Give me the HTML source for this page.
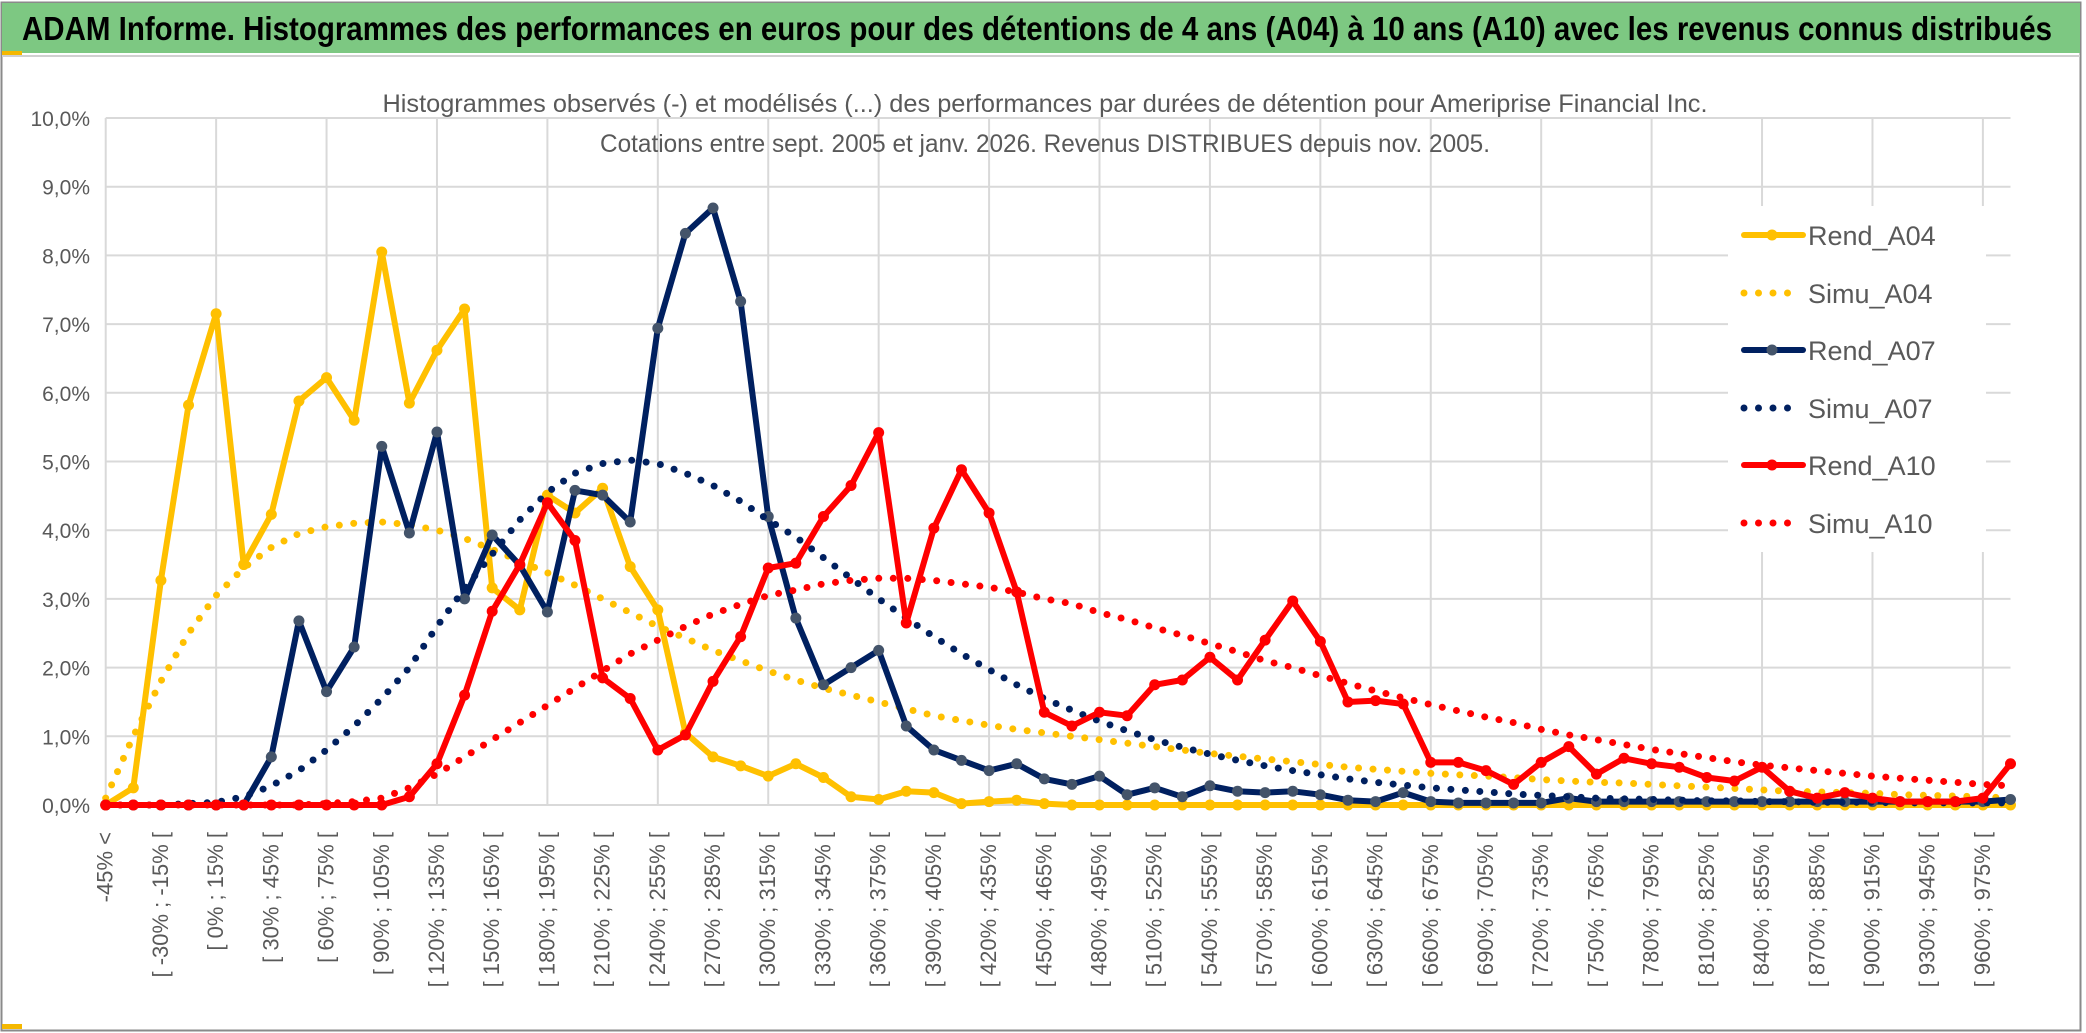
<!DOCTYPE html>
<html><head><meta charset="utf-8"><title>ADAM Informe</title>
<style>
html,body{margin:0;padding:0;background:#fff;}
svg{display:block;font-family:"Liberation Sans",sans-serif;}
</style></head>
<body>
<svg id="chart" width="2086" height="1033" viewBox="0 0 2086 1033" xmlns="http://www.w3.org/2000/svg">
  <rect x="1.5" y="2.5" width="2079" height="1028" fill="#fff" stroke="#8a8a8a" stroke-width="2"/>
  <rect x="2" y="3" width="2078" height="50" fill="#7dc882"/>
  <rect x="2" y="51" width="20" height="4" fill="#f5b800"/>
  <line x1="2" y1="56" x2="2080" y2="56" stroke="#d0d0d0" stroke-width="2"/>
  <rect x="2" y="1024" width="20" height="5" fill="#f5b800"/>
  <text x="22" y="40" font-size="33" font-weight="bold" fill="#000" textLength="2030" lengthAdjust="spacingAndGlyphs">ADAM Informe. Histogrammes des performances en euros pour des détentions de 4 ans (A04) à 10 ans (A10) avec les revenus connus distribués</text>
  <g id="grid"></g>
  <g id="yaxis"></g>
  <g id="xaxis"></g>
  <rect x="1728" y="206" width="258" height="346" fill="#fff"/>
  <text x="1045" y="112" font-size="25" fill="#595959" text-anchor="middle" textLength="1325" lengthAdjust="spacingAndGlyphs">Histogrammes observés (-) et modélisés (...) des performances par durées de détention pour Ameriprise Financial Inc.</text>
  <text x="1045" y="152" font-size="25" fill="#595959" text-anchor="middle" textLength="890" lengthAdjust="spacingAndGlyphs">Cotations entre sept. 2005 et janv. 2026. Revenus DISTRIBUES depuis nov. 2005.</text>
  <g id="series"></g>
  <g id="legend"></g>
</svg>
<script>
const categories = ["-45% <","[ -45% ; -30% [","[ -30% ; -15% [","[ -15% ; 0% [","[ 0% ; 15% [","[ 15% ; 30% [","[ 30% ; 45% [","[ 45% ; 60% [","[ 60% ; 75% [","[ 75% ; 90% [","[ 90% ; 105% [","[ 105% ; 120% [","[ 120% ; 135% [","[ 135% ; 150% [","[ 150% ; 165% [","[ 165% ; 180% [","[ 180% ; 195% [","[ 195% ; 210% [","[ 210% ; 225% [","[ 225% ; 240% [","[ 240% ; 255% [","[ 255% ; 270% [","[ 270% ; 285% [","[ 285% ; 300% [","[ 300% ; 315% [","[ 315% ; 330% [","[ 330% ; 345% [","[ 345% ; 360% [","[ 360% ; 375% [","[ 375% ; 390% [","[ 390% ; 405% [","[ 405% ; 420% [","[ 420% ; 435% [","[ 435% ; 450% [","[ 450% ; 465% [","[ 465% ; 480% [","[ 480% ; 495% [","[ 495% ; 510% [","[ 510% ; 525% [","[ 525% ; 540% [","[ 540% ; 555% [","[ 555% ; 570% [","[ 570% ; 585% [","[ 585% ; 600% [","[ 600% ; 615% [","[ 615% ; 630% [","[ 630% ; 645% [","[ 645% ; 660% [","[ 660% ; 675% [","[ 675% ; 690% [","[ 690% ; 705% [","[ 705% ; 720% [","[ 720% ; 735% [","[ 735% ; 750% [","[ 750% ; 765% [","[ 765% ; 780% [","[ 780% ; 795% [","[ 795% ; 810% [","[ 810% ; 825% [","[ 825% ; 840% [","[ 840% ; 855% [","[ 855% ; 870% [","[ 870% ; 885% [","[ 885% ; 900% [","[ 900% ; 915% [","[ 915% ; 930% [","[ 930% ; 945% [","[ 945% ; 960% [","[ 960% ; 975% [","[ 975% ; 990% ["];
const yTicks = [0,1,2,3,4,5,6,7,8,9,10];
const yTickLabels = ["0,0%","1,0%","2,0%","3,0%","4,0%","5,0%","6,0%","7,0%","8,0%","9,0%","10,0%"];
const seriesNames = ["Rend_A04","Simu_A04","Rend_A07","Simu_A07","Rend_A10","Simu_A10"];
const rendA04 = [0,0.25,3.27,5.82,7.15,3.5,4.23,5.88,6.22,5.6,8.05,5.85,6.62,7.22,3.16,2.84,4.51,4.25,4.61,3.47,2.84,1.05,0.7,0.57,0.42,0.6,0.4,0.12,0.08,0.2,0.18,0.02,0.05,0.07,0.02,0,0,0,0,0,0,0,0,0,0,0,0,0,0,0,0,0,0,0,0,0,0,0,0,0,0,0,0,0,0,0,0,0,0,0];
const simuA04 = [0.1,1.0,1.8,2.5,3.05,3.45,3.75,3.95,4.05,4.1,4.12,4.08,4.0,3.88,3.72,3.55,3.38,3.2,3.0,2.8,2.6,2.43,2.25,2.1,1.95,1.82,1.7,1.6,1.5,1.4,1.3,1.23,1.16,1.1,1.05,1.0,0.95,0.9,0.85,0.8,0.75,0.71,0.67,0.63,0.59,0.55,0.52,0.49,0.46,0.44,0.42,0.4,0.37,0.35,0.33,0.32,0.3,0.28,0.26,0.24,0.22,0.2,0.19,0.18,0.17,0.15,0.14,0.13,0.12,0.1];
const rendA07 = [0,0,0,0,0,0,0.7,2.68,1.65,2.3,5.22,3.96,5.43,3.0,3.93,3.49,2.81,4.58,4.51,4.12,6.94,8.32,8.69,7.33,4.2,2.72,1.75,2.0,2.25,1.15,0.8,0.65,0.5,0.6,0.38,0.3,0.42,0.15,0.25,0.12,0.28,0.2,0.18,0.2,0.15,0.07,0.05,0.18,0.05,0.03,0.03,0.03,0.03,0.1,0.05,0.05,0.05,0.05,0.05,0.05,0.05,0.05,0.05,0.05,0.05,0.05,0.05,0.05,0.05,0.08];
const simuA07 = [0,0,0,0.02,0.04,0.12,0.28,0.5,0.8,1.15,1.55,2.0,2.6,3.15,3.65,4.15,4.55,4.83,4.97,5.02,4.97,4.83,4.65,4.42,4.15,3.9,3.6,3.3,3.0,2.72,2.45,2.2,1.97,1.75,1.55,1.38,1.22,1.08,0.95,0.84,0.74,0.65,0.57,0.5,0.44,0.38,0.33,0.29,0.25,0.22,0.19,0.16,0.14,0.12,0.1,0.09,0.08,0.07,0.06,0.06,0.05,0.05,0.04,0.04,0.04,0.03,0.03,0.03,0.03,0.03];
const rendA10 = [0,0,0,0,0,0,0,0,0,0,0,0.12,0.6,1.6,2.82,3.5,4.4,3.85,1.85,1.55,0.8,1.02,1.8,2.45,3.45,3.52,4.2,4.65,5.42,2.65,4.03,4.88,4.25,3.1,1.35,1.15,1.35,1.3,1.75,1.82,2.15,1.82,2.4,2.97,2.38,1.5,1.52,1.47,0.62,0.62,0.5,0.3,0.62,0.85,0.45,0.68,0.6,0.55,0.4,0.35,0.55,0.2,0.1,0.18,0.1,0.05,0.05,0.05,0.1,0.6];
const simuA10 = [0,0,0,0,0,0,0,0,0.02,0.05,0.1,0.25,0.45,0.7,0.95,1.2,1.45,1.7,1.95,2.2,2.4,2.6,2.78,2.92,3.05,3.13,3.22,3.27,3.3,3.3,3.27,3.22,3.17,3.1,3.0,2.93,2.8,2.7,2.58,2.47,2.35,2.23,2.1,2.0,1.88,1.77,1.66,1.56,1.46,1.37,1.28,1.2,1.1,1.02,0.95,0.88,0.81,0.75,0.69,0.63,0.58,0.54,0.5,0.46,0.42,0.39,0.36,0.33,0.3,0.28];

const NS = "http://www.w3.org/2000/svg";
const X0 = 105.7, X1 = 2010.5, Y0 = 805, YTOP = 118, YMAX = 10;
const step = (X1 - X0) / (categories.length - 1);
function xPos(i){ return X0 + i * step; }
function yPos(v){ return Y0 - v / YMAX * (Y0 - YTOP); }
function mk(tag, attrs, parent){ const e = document.createElementNS(NS, tag); for (const k in attrs) e.setAttribute(k, attrs[k]); parent.appendChild(e); return e; }

const grid = document.getElementById('grid');
yTicks.forEach((t, i) => {
  const l = mk('line', {x1: X0, x2: X1, y1: yPos(t), y2: yPos(t), stroke: '#d9d9d9', 'stroke-width': 2}, grid);
  
  
});
for (let i = 0; i < categories.length; i += 4) {
  const l = mk('line', {x1: xPos(i), x2: xPos(i), y1: YTOP, y2: Y0, stroke: '#d9d9d9', 'stroke-width': 2}, grid);
  
  
}
const yaxis = document.getElementById('yaxis');
yTicks.forEach((t, i) => {
  const tx = mk('text', {x: 90, y: yPos(t) + 8, 'font-size': 21, fill: '#595959', 'text-anchor': 'end'}, yaxis);
  tx.textContent = yTickLabels[i];
  
  
});
const xaxis = document.getElementById('xaxis');
categories.forEach((c, i) => {
  if (i % 2 !== 0) return;
  const x = xPos(i) + 7;
  const tx = mk('text', {x: x, y: 832, 'font-size': 22, fill: '#595959', 'text-anchor': 'end', transform: 'rotate(-90 ' + x + ' 832)'}, xaxis);
  tx.textContent = c;
  
  
});

const seriesLayer = document.getElementById('series');
const defs = [
  {data: rendA04, color: '#FFC000', marker: '#FFC000', dotted: false},
  {data: simuA04, color: '#FFC000', dotted: true},
  {data: rendA07, color: '#002060', marker: '#44546A', dotted: false},
  {data: simuA07, color: '#002060', dotted: true},
  {data: rendA10, color: '#FF0000', marker: '#FF0000', dotted: false},
  {data: simuA10, color: '#FF0000', dotted: true}
];
defs.forEach((s, si) => {
  const g = mk('g', {}, seriesLayer);
  
  
  const pts = s.data.map((v, i) => xPos(i).toFixed(1) + ',' + yPos(v).toFixed(1)).join(' ');
  const attrs = {points: pts, fill: 'none', stroke: s.color, 'stroke-linejoin': 'round'};
  if (s.dotted) { attrs['stroke-width'] = 7; attrs['stroke-dasharray'] = '0 14.5'; attrs['stroke-linecap'] = 'round'; }
  else { attrs['stroke-width'] = 6; attrs['stroke-linecap'] = 'round'; }
  const pl = mk('polyline', attrs, g);
  
  
  if (!s.dotted) {
    s.data.forEach((v, i) => {
      const c = mk('circle', {cx: xPos(i), cy: yPos(v), r: 5.5, fill: s.marker}, g);
      
      
    });
  }
});

const legend = document.getElementById('legend');
const legendY = [235, 293, 350, 408, 465, 523];
defs.forEach((s, si) => {
  const y = legendY[si];
  const g = mk('g', {}, legend);
  
  
  if (s.dotted) {
    const l = mk('line', {x1: 1744, x2: 1802, y1: y, y2: y, stroke: s.color, 'stroke-width': 7, 'stroke-dasharray': '0 14.5', 'stroke-linecap': 'round'}, g);
    
    
  } else {
    const l = mk('line', {x1: 1744, x2: 1803, y1: y, y2: y, stroke: s.color, 'stroke-width': 6, 'stroke-linecap': 'round'}, g);
    
    
    const c = mk('circle', {cx: 1772, cy: y, r: 5.5, fill: s.marker}, g);
    
    
  }
  const t = mk('text', {x: 1808, y: y + 10, 'font-size': 27, fill: '#595959'}, g);
  t.textContent = seriesNames[si];
  
  
});
</script>
</body></html>
